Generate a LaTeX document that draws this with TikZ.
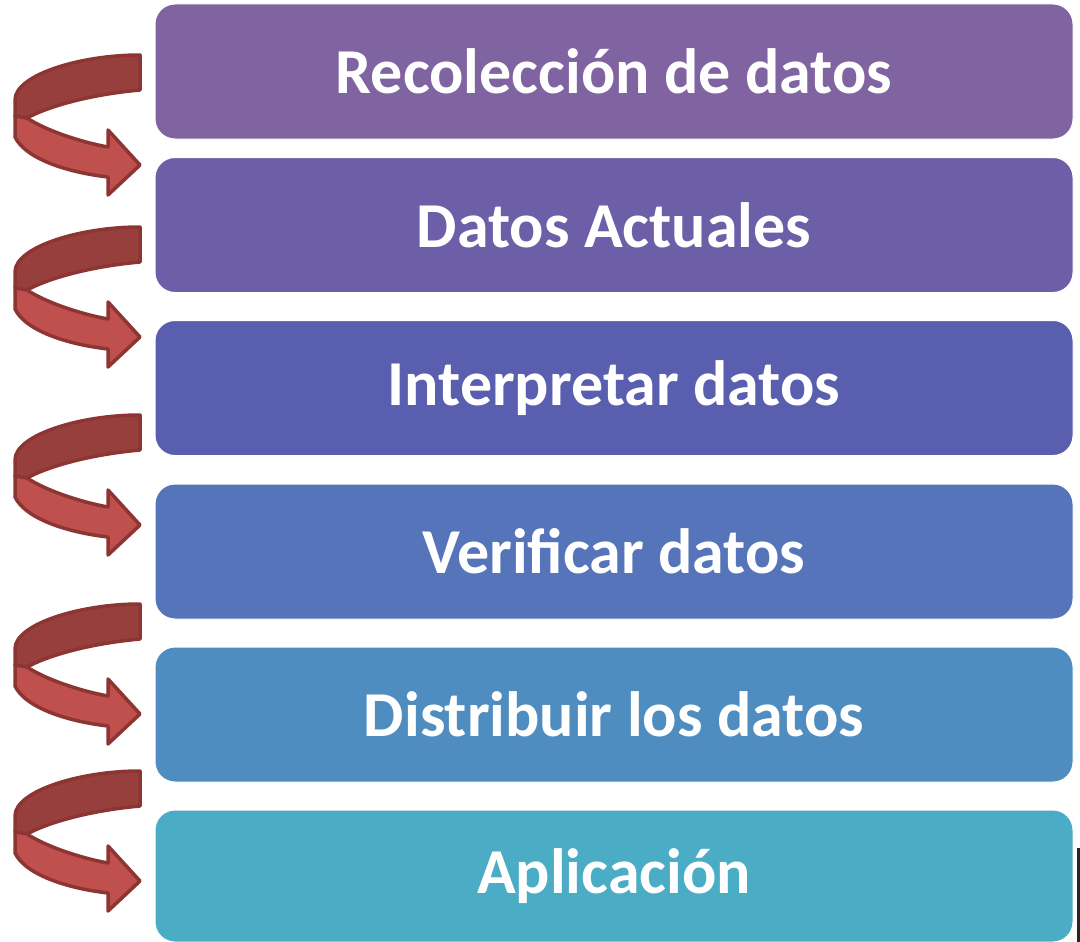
\documentclass[tikz,border=0pt]{standalone}
\usepackage{fontspec}
\setmainfont{Carlito}
\definecolor{c1}{HTML}{8064A2}
\definecolor{c2}{HTML}{6C5FA7}
\definecolor{c3}{HTML}{5A5EAF}
\definecolor{c4}{HTML}{5674BA}
\definecolor{c5}{HTML}{4F8DC1}
\definecolor{c6}{HTML}{4BACC6}
\definecolor{arrdark}{HTML}{973F3D}
\definecolor{arrlight}{HTML}{C0504D}
\definecolor{arrline}{HTML}{8C3533}
\tikzset{
  box/.style={rounded corners=20pt, draw=white, line width=1pt, minimum width=918pt, minimum height=135pt,
    text=white, font=\fontsize{64}{72}\selectfont\bfseries, inner sep=0pt},
  band/.style={draw=arrline, line width=3.5pt, line join=round},
}
\begin{document}
\begin{tikzpicture}[x=1pt,y=-1pt]
\useasboundingbox (0,0) rectangle (1080,942);
\fill[white] (0,0) rectangle (1080,942);
\fill[black!85] (1077,848) rectangle (1080,942);
\node[box, fill=c1] (b1) at (614,71.5) {Recolección de datos};
\node[box, fill=c2] (b2) at (614,225) {Datos Actuales};
\node[box, fill=c3] (b3) at (614,388) {Interpretar datos};
\node[box, fill=c4] (b4) at (614,551.5) {Verificar datos};
\node[box, fill=c5] (b5) at (614,714.5) {Distribuir los datos};
\node[box, fill=c6, minimum height=132pt] (b6) at (614,876) {Aplicación};
\foreach \dy in {0,172,360,549,716}{
  \begin{scope}[shift={(0,\dy)}]
    \filldraw[band, fill=arrdark] (140,55) .. controls (80,55) and (15,75) .. (15,100)
      -- (15,116) -- (27,118) .. controls (45,108) and (85,95) .. (140,90) -- cycle;
    \filldraw[band, fill=arrlight] (15,116) -- (15,137)
      .. controls (25,158) and (65,172) .. (108,177) -- (108,195) -- (140,165)
      -- (108,130) -- (108,147) .. controls (80,142) and (45,130) .. (27,118) -- cycle;
  \end{scope}
}
\end{tikzpicture}
\end{document}
